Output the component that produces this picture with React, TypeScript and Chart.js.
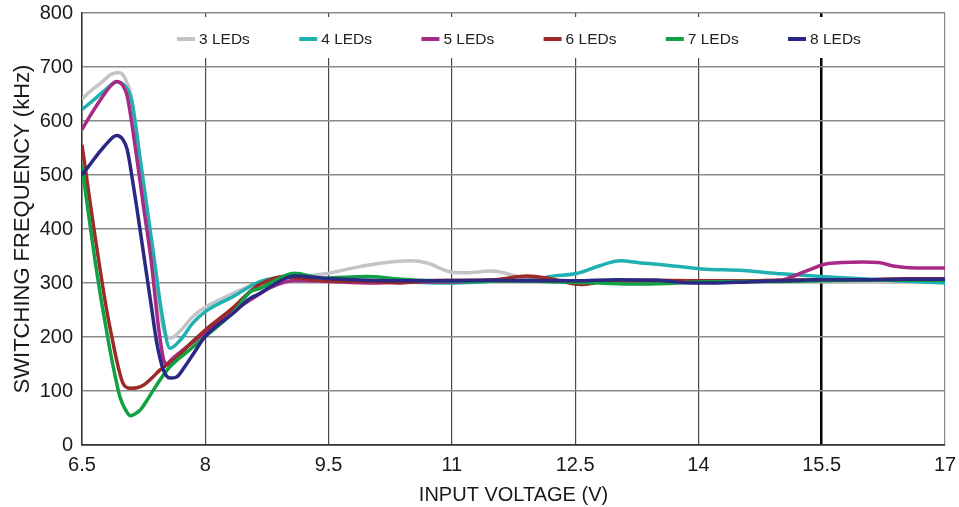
import { useEffect, useRef } from "react";
import { Chart, registerables } from "chart.js";

Chart.register(...registerables);

const FONT = '"Liberation Sans", Arial, Helvetica, sans-serif';

const seriesNames = ["3 LEDs", "4 LEDs", "5 LEDs", "6 LEDs", "7 LEDs", "8 LEDs"];
const seriesColors = ["#c4c4c8", "#1fb1b2", "#a82a86", "#9a2b27", "#12a044", "#2a2882"];

const xTicks = [6.5, 8, 9.5, 11, 12.5, 14, 15.5, 17];

const led3V = [6.5, 6.6, 6.75, 6.85, 6.95, 7.02, 7.1, 7.2, 7.3, 7.4, 7.5, 7.58, 7.7, 7.85, 8.0, 8.3, 8.6, 8.9, 9.2, 9.5, 9.8, 10.2, 10.5, 10.7, 11.0, 11.2, 11.45, 11.6, 11.8, 12.1, 12.6, 13.2, 14, 15, 16, 17];
const led3F = [640, 655, 673, 686, 690, 680, 645, 535, 410, 295, 210, 198, 212, 238, 255, 278, 298, 308, 312, 318, 328, 338, 341, 337, 320, 319, 322, 320, 312, 305, 304, 303, 303, 303, 303, 303];

const led4V = [6.5, 6.65, 6.8, 6.92, 7.0, 7.1, 7.21, 7.3, 7.38, 7.47, 7.57, 7.7, 7.85, 8.0, 8.34, 8.67, 9.0, 9.5, 10.0, 10.5, 10.9, 11.2, 11.6, 12.0, 12.2, 12.53, 12.8, 13.05, 13.3, 13.55, 14.04, 14.54, 15.01, 15.5, 15.87, 16.4, 17];
const led4F = [621, 640, 660, 672, 668, 640, 528, 430, 343, 245, 179, 195, 226, 247, 275, 303, 310, 306, 304, 302, 300, 301, 304, 306, 312, 318, 332, 341, 337, 334, 326, 323, 317, 312, 309, 304, 300];

const led5V = [6.5, 6.6, 6.75, 6.85, 6.92, 7.0, 7.05, 7.17, 7.25, 7.34, 7.43, 7.49, 7.52, 7.6, 7.78, 8.0, 8.3, 8.55, 8.8, 9.1, 9.5, 10.0, 10.5, 11, 11.5, 12, 12.5, 13, 13.5, 14, 14.5, 15.0, 15.09, 15.34, 15.58, 15.99, 16.19, 16.39, 16.64, 17];
const led5F = [584, 610, 645, 665, 673, 665, 646, 528, 440, 343, 219, 160, 150, 160, 182, 208, 244, 269, 292, 305, 303, 300, 302, 302, 304, 305, 304, 303, 302, 303, 304, 305, 309, 324, 336, 339, 338, 331, 328, 328];

const led6V = [6.5, 6.57, 6.64, 6.72, 6.8, 6.87, 6.92, 7.0, 7.09, 7.17, 7.25, 7.35, 7.45, 7.55, 7.65, 7.8, 8.0, 8.35, 8.55, 8.67, 8.95, 9.3, 9.7, 10.0, 10.38, 10.7, 11.0, 11.5, 11.92, 12.2, 12.57, 12.9, 13.5, 14, 14.5, 15, 15.5, 16, 16.5, 17];
const led6F = [556, 480, 405, 325, 250, 195, 158, 114, 105, 106, 111, 124, 139, 150, 161, 185, 213, 256, 285, 298, 312, 306, 303, 303, 300, 304, 305, 306, 313, 308, 297, 304, 305, 304, 304, 305, 306, 306, 308, 308];

const led7V = [6.5, 6.55, 6.6, 6.66, 6.72, 6.78, 6.84, 6.9, 6.96, 7.03, 7.09, 7.15, 7.21, 7.3, 7.37, 7.47, 7.57, 7.8, 8.0, 8.35, 8.55, 8.67, 8.79, 9.08, 9.44, 9.97, 10.38, 10.8, 11.3, 11.8, 12.3, 12.8, 13.2, 13.6, 14.0, 14.5, 15, 15.5, 16, 16.5, 17];
const led7F = [519, 460, 405, 340, 281, 228, 176, 130, 90, 65, 54, 58, 65, 85, 102, 125, 145, 175, 201, 247, 284, 290, 300, 318, 309, 312, 307, 304, 303, 304, 302, 300, 298, 299, 302, 303, 303, 304, 305, 305, 305];

const led8V = [6.5, 6.6, 6.7, 6.8, 6.92, 7.0, 7.05, 7.11, 7.17, 7.23, 7.29, 7.35, 7.41, 7.49, 7.57, 7.65, 7.75, 7.86, 8.0, 8.34, 8.55, 8.67, 8.79, 9.08, 9.44, 10, 10.5, 11, 11.5, 12, 12.5, 13, 13.5, 13.9, 14.2, 14.6, 15, 15.5, 16, 16.5, 17];
const led8F = [500, 520, 540, 558, 573, 565, 547, 495, 436, 374, 312, 250, 189, 139, 124, 126, 145, 170, 201, 244, 272, 281, 293, 313, 309, 305, 304, 304, 305, 304, 304, 306, 305, 300, 300, 302, 304, 306, 306, 307, 307];

const seriesV = [led3V, led4V, led5V, led6V, led7V, led8V];
const seriesF = [led3F, led4F, led5F, led6F, led7F, led8F];

const legendPlugin = {
  id: "insideLegend",
  afterDraw(chart: any) {
    const { ctx, chartArea } = chart;
    ctx.save();
    ctx.fillStyle = "#ffffff";
    ctx.fillRect(chartArea.left + 1, chartArea.top + 4, chartArea.right - chartArea.left - 2, 41);
    ctx.font = `15.5px ${FONT}`;
    ctx.textBaseline = "middle";
    ctx.textAlign = "left";
    chart.data.datasets.forEach((ds: any, i: number) => {
      const x0 = chartArea.left + 95 + i * 122.2;
      ctx.fillStyle = ds.borderColor;
      ctx.fillRect(x0, chartArea.top + 24, 18, 4);
      ctx.fillStyle = "#222222";
      ctx.fillText(ds.label, x0 + 22, chartArea.top + 27);
    });
    ctx.restore();
  },
};

export default function App() {
  const ref = useRef<HTMLCanvasElement | null>(null);

  useEffect(() => {
    if (!ref.current) return;
    const datasets = seriesNames.map((name, i) => ({
      label: name,
      data: seriesV[i].map((v, j) => ({ x: v, y: seriesF[i][j] })),
      borderColor: seriesColors[i],
      backgroundColor: seriesColors[i],
      borderWidth: 3.5,
      pointRadius: 0,
      fill: false,
      cubicInterpolationMode: "monotone" as const,
      order: 6 - i,
    }));

    const chart = new Chart(ref.current, {
      type: "line",
      data: { datasets },
      plugins: [legendPlugin],
      options: {
        animation: false,
        responsive: false,
        devicePixelRatio: 1,
        layout: { padding: { top: 13, right: 14, left: 0, bottom: 0 } },
        plugins: {
          legend: { display: false },
          tooltip: { enabled: false },
        },
        scales: {
          x: {
            type: "linear",
            min: 6.5,
            max: 17,
            afterBuildTicks: (s: any) => {
              s.ticks = xTicks.map((v) => ({ value: v }));
            },
            afterFit: (s: any) => {
              s.height = 62;
              s.paddingLeft = 0;
              s.paddingRight = 0;
            },
            ticks: {
              autoSkip: false,
              maxRotation: 0,
              padding: 8,
              color: "#1a1a1a",
              font: { family: FONT, size: 20 },
              callback: (v: any) => String(v),
            },
            grid: {
              drawTicks: false,
              color: (c: any) => {
                const v = c.tick ? c.tick.value : null;
                if (v === 15.5) return "#000000";
                if (v === 17) return "#8a8a8a";
                return "#4a4a4a";
              },
              lineWidth: (c: any) => (c.tick && c.tick.value === 15.5 ? 2.5 : 1.2),
            },
            border: { color: "#333333", width: 1.5 },
            title: {
              display: true,
              text: "INPUT VOLTAGE (V)",
              color: "#1a1a1a",
              font: { family: FONT, size: 20 },
              padding: { top: 0, bottom: 0 },
            },
          },
          y: {
            min: 0,
            max: 800,
            afterFit: (s: any) => {
              s.width = 82;
              s.paddingTop = 0;
              s.paddingBottom = 0;
            },
            ticks: {
              stepSize: 100,
              padding: 9,
              color: "#1a1a1a",
              font: { family: FONT, size: 20 },
            },
            grid: {
              drawTicks: false,
              color: (c: any) => (c.tick && c.tick.value === 0 ? "#333333" : "#8a8a8a"),
              lineWidth: 1.5,
            },
            border: { color: "#333333", width: 1.5 },
            title: {
              display: true,
              text: "SWITCHING FREQUENCY (kHz)",
              color: "#1a1a1a",
              font: { family: FONT, size: 22 },
              padding: { top: 10, bottom: 0 },
            },
          },
        },
      },
    });
    return () => chart.destroy();
  }, []);

  return (
    <div style={{ position: "fixed", left: 0, top: 0, width: 959, height: 507, background: "#ffffff" }}>
      <canvas ref={ref} width={959} height={507} />
    </div>
  );
}
